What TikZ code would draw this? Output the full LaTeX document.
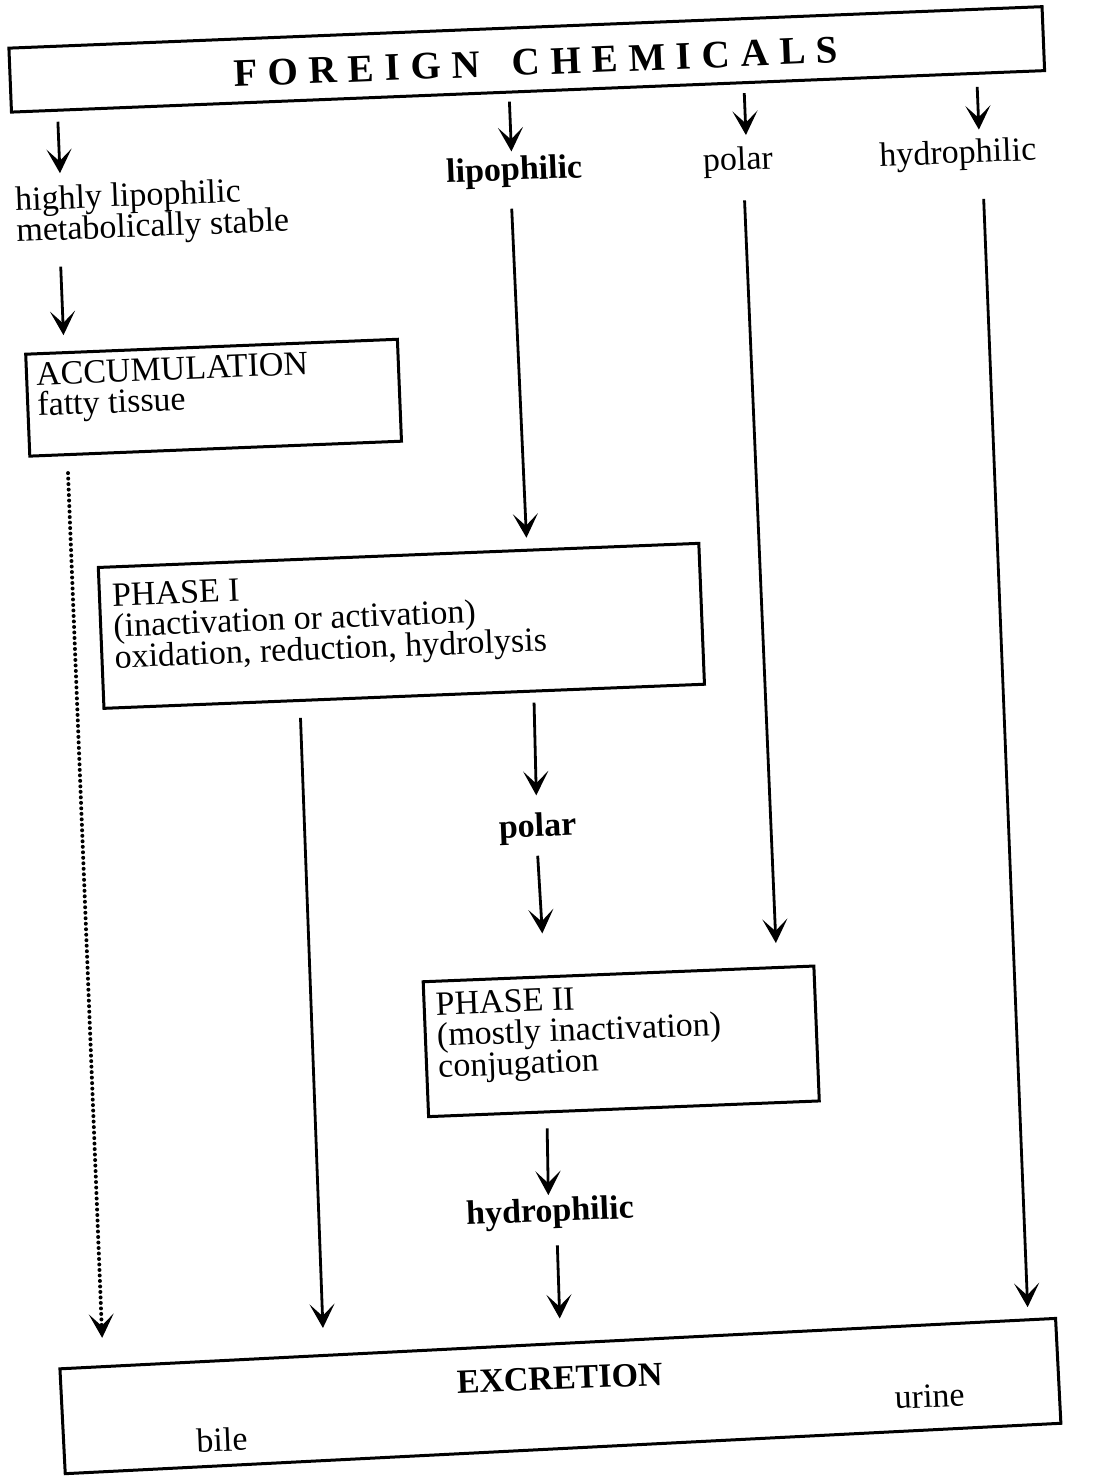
\documentclass[tikz,border=0pt]{standalone}
\usepackage{fontspec}
\setmainfont{Liberation Serif}
\usetikzlibrary{arrows.meta}

\begin{document}
\begin{tikzpicture}[x=1pt,y=-1pt,
  box/.style={draw, line width=3pt, inner sep=0pt},
  lbl/.style={font=\fontsize{34}{31}\selectfont, inner sep=0pt, align=left},
  blbl/.style={inner sep=0pt, align=left, font=\fontsize{34}{31}\selectfont\bfseries},
  title/.style={inner sep=0pt, font=\fontsize{39}{42}\selectfont\bfseries\addfontfeature{LetterSpace=27.5}},
  arr/.style={line width=2.8pt, -{Stealth[length=24pt,width=25pt,inset=12pt]}},
  dotarr/.style={line width=4pt, line cap=round, dash pattern=on 0pt off 5.5pt,
                 -{Stealth[length=24pt,width=25pt,inset=12pt,line width=0pt]}}
]
% page background and size
\fill[white] (0,0) rectangle (1098,1476);

\begin{scope}[rotate around={2.3:(549,738)}, transform shape]

% boxes
\node[box, minimum width=1034pt, minimum height=64pt] (fc) at (554,59) {};
\node[title] (fcT) at (563,62) {FOREIGN \hspace{12pt}CHEMICALS};

\node[box, minimum width=372pt, minimum height=102pt, anchor=north west] (acc) at (40,332) {};
\node[lbl, anchor=north west] (accT) at (51,342) {ACCUMULATION\\fatty tissue};

\node[box, minimum width=601pt, minimum height=141pt, anchor=north west] (ph1) at (104,548) {};
\node[lbl, anchor=north west] (ph1T) at (118,566) {PHASE I\\(inactivation or activation)\\oxidation, reduction, hydrolysis};

\node[box, minimum width=391pt, minimum height=135pt, anchor=north west] (ph2) at (412,975) {};
\node[lbl, anchor=north west] (ph2T) at (425,988) {PHASE II\\(mostly inactivation)\\conjugation};

\node[box, minimum width=997pt, minimum height=105pt, rotate=0.6] (exc) at (534,1396) {};
\node[blbl] (excT) at (534,1378) {EXCRETION};
\node[lbl] (bile) at (194,1426) {bile};
\node[lbl] (urine) at (903,1411) {urine};

% labels
\node[lbl, anchor=north west] (hl) at (37,166) {highly lipophilic\\metabolically stable};
\node[blbl] (lipo) at (537,171) {lipophilic};
\node[lbl] (pol) at (761,170) {polar};
\node[lbl] (hyd) at (981,172) {hydrophilic};
\node[blbl] (pol2) at (534,828) {polar};
\node[blbl] (hyd2) at (531,1213) {hydrophilic};

% connectors
\draw[arr] ([xshift=-471pt,yshift=-10pt]fc.south) -- ([xshift=46pt,yshift=12pt]hl.north west);
\draw[arr] ([xshift=-19pt,yshift=-8pt]fc.south) -- ([xshift=-2pt,yshift=5pt]lipo.north);
\draw[arr] ([xshift=216pt,yshift=-9pt]fc.south) -- ([xshift=9pt,yshift=11pt]pol.north);
\draw[arr] ([xshift=449pt,yshift=-12pt]fc.south) -- ([xshift=22pt,yshift=9pt]hyd.north);

\draw[arr] ([xshift=43pt,yshift=-19pt]hl.south west) -- ([xshift=40pt,yshift=16pt]acc.north west);
\draw[arr] ([xshift=-4pt,yshift=-21pt]lipo.south) -- ([xshift=128.5pt,yshift=11pt]ph1.north);
\draw[arr] ([xshift=5pt,yshift=-23pt]pol.south) -- ([xshift=158.5pt,yshift=23pt]ph2.north);
\draw[arr] ([xshift=24pt,yshift=-29pt]hyd.south) -- ([xshift=471pt,yshift=16pt]exc.north);

\draw[dotarr] ([xshift=39pt,yshift=-17pt]acc.south west) -- ([xshift=-455pt,yshift=22.5pt]exc.north);
\draw[arr] ([xshift=-104.5pt,yshift=-16pt]ph1.south) -- ([xshift=-234pt,yshift=23.5pt]exc.north);
\draw[arr] ([xshift=129.5pt,yshift=-10pt]ph1.south) -- ([yshift=17.6pt]pol2.north);
\draw[arr] ([xshift=-1pt,yshift=-11.6pt]pol2.south) -- ([xshift=-74.5pt,yshift=42pt]ph2.north);
\draw[arr] ([xshift=-77.5pt,yshift=-15pt]ph2.south) -- ([xshift=-1pt,yshift=2.6pt]hyd2.north);
\draw[arr] ([xshift=6pt,yshift=-16.6pt]hyd2.south) -- ([xshift=3pt,yshift=23.5pt]exc.north);

\end{scope}
\end{tikzpicture}
\end{document}
